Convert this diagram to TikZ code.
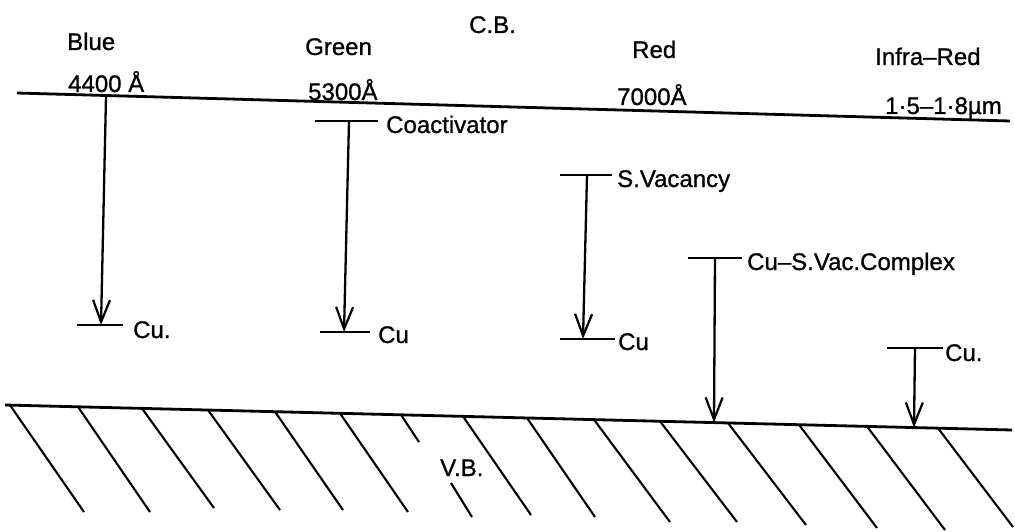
\documentclass[tikz,border=0pt]{standalone}
\usepackage{fontspec}
\setmainfont{Liberation Sans}[BoldFont={Liberation Sans},BoldFeatures={FakeBold=0.9}]
\usetikzlibrary{arrows.meta}
\begin{document}
\begin{tikzpicture}[x=1pt,y=-1pt,
  lbl/.style={font=\fontsize{24}{28}\selectfont\bfseries, inner sep=0pt, anchor=base west},
  band/.style={line width=2.8pt},
  bar/.style={line width=2.5pt},
  trans/.style={line width=2.3pt, -{Straight Barb[length=22pt,width=17pt,line width=2.2pt]}},
  hatch/.style={line width=2.1pt}]
\useasboundingbox (0,0) rectangle (1015,532);
% bands
\coordinate (cbL) at (17,93);
\coordinate (cbR) at (1010,121);
\coordinate (vbL) at (5,405);
\coordinate (vbR) at (1012,430);
\draw[band] (cbL) -- (cbR);
\draw[band] (vbL) -- (vbR);
% hatching of valence band
\foreach \tx/\ex/\ey in {10/84/512,78/150/512,142/214/508,208/280/510,275/343/510,340/408/512,463/531/515,527/595/517,594/670/522,660/737/522,728/806/525,799/877/528,867/945/530,938/1013/527}{
  \pgfmathsetmacro{\ty}{405+0.024826*(\tx-5)}
  \draw[hatch] (\tx,\ty) -- (\ex,\ey);
}
\draw[hatch] (401,414.8) -- (419,442);
\draw[hatch] (451,483) -- (472,517);
% band labels
\node[lbl] (cb) at (469,33) {C.B.};
\node[lbl] (vb) at (440,476) {V.B.};
% top labels
\node[lbl] (blue) at (67,50) {Blue};
\node[lbl] (bluew) at (68,92) {4400 Å};
\node[lbl] (green) at (305,55) {Green};
\node[lbl] (greenw) at (308,100) {5300Å};
\node[lbl] (red) at (632,58) {Red};
\node[lbl] (redw) at (617,105) {7000Å};
\node[lbl] (ir) at (875,65) {Infra–Red};
\node[lbl] (irw) at (885,114) {1·5–1·8µm};
% levels
\coordinate (cbB) at (106,96.5);
\coordinate (cuBl) at (77,325);  \coordinate (cuBr) at (123,325); \coordinate (cuB) at (101,325);
\coordinate (coL) at (315,121);  \coordinate (coR) at (378,121);  \coordinate (co) at (349,121);
\coordinate (cuGl) at (320,332); \coordinate (cuGr) at (370,332); \coordinate (cuG) at (344,332);
\coordinate (svL) at (560,175);  \coordinate (svR) at (612,175);  \coordinate (sv) at (587,175);
\coordinate (cuRl) at (560,339); \coordinate (cuRr) at (615,339); \coordinate (cuR) at (583,339);
\coordinate (cxL) at (688,258);  \coordinate (cxR) at (742,258);  \coordinate (cx) at (715,258);
\coordinate (cxV) at (714,422.5);
\coordinate (cuIl) at (887,348); \coordinate (cuIr) at (943,348); \coordinate (cuI) at (915,348);
\coordinate (cuIV) at (914,427.5);
\foreach \a/\b in {cuBl/cuBr,coL/coR,cuGl/cuGr,svL/svR,cuRl/cuRr,cxL/cxR,cuIl/cuIr}
  \draw[bar] (\a) -- (\b);
% level labels
\node[lbl] (lcuB) at (133,338) {Cu.};
\node[lbl] (lco) at (386,133) {Coactivator};
\node[lbl] (lcuG) at (378,343) {Cu};
\node[lbl] (lsv) at (617,187) {S.Vacancy};
\node[lbl] (lcuR) at (618,350) {Cu};
\node[lbl] (lcx) at (747,270) {Cu–S.Vac.Complex};
\node[lbl] (lcuI) at (945,361) {Cu.};
% transitions
\draw[trans] (cbB) -- (cuB);
\draw[trans] (co) -- (cuG);
\draw[trans] (sv) -- (cuR);
\draw[trans] (cx) -- (cxV);
\draw[trans] (cuI) -- (cuIV);
\end{tikzpicture}
\end{document}
